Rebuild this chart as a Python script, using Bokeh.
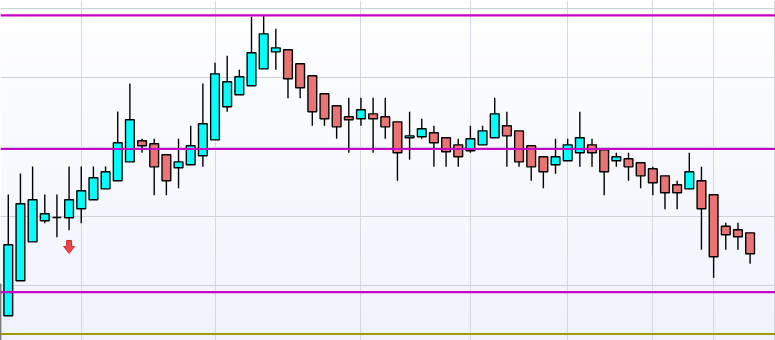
import numpy as np
from bokeh.plotting import figure
from bokeh.models import Range1d, FixedTicker, Grid, Span, ColumnDataSource
from bokeh.embed import file_html
from bokeh.resources import INLINE

opens = [100.15, 97.82, 100.35, 103.16, 104.68, 104.92, 104.90, 105.55, 106.20, 106.99,
         107.57, 108.94, 110.46, 110.25, 109.45, 108.51, 108.73, 109.38, 110.53, 112.92,
         113.79, 114.44, 115.66, 116.89, 117.04, 116.03, 115.16, 113.86, 112.99, 112.20,
         112.05, 112.41, 112.20, 111.83, 110.68, 110.75, 111.04, 110.68, 110.17, 109.74,
         110.17, 110.68, 111.55, 111.18, 110.10, 109.31, 108.73, 109.02, 109.60, 110.17,
         109.81, 109.02, 109.16, 108.87, 108.44, 107.93, 107.28, 106.99, 107.57, 106.56,
         104.29, 104.03, 103.81]
closes = [95.17, 102.95, 105.91, 106.20, 105.19, 104.92, 106.20, 106.85, 107.79, 108.22,
          110.32, 111.98, 110.10, 108.58, 107.57, 108.94, 110.10, 111.69, 115.30, 114.73,
          115.09, 116.82, 118.19, 117.18, 114.94, 114.29, 112.56, 112.05, 111.47, 111.98,
          112.70, 112.05, 111.47, 109.60, 110.82, 111.33, 110.32, 109.67, 109.31, 110.61,
          111.18, 112.41, 110.82, 108.94, 108.58, 108.22, 109.31, 110.17, 110.68, 109.60,
          108.22, 109.31, 108.58, 107.93, 107.43, 106.71, 106.71, 108.22, 105.55, 102.08,
          103.67, 103.53, 102.30]
highs = [100.37, 106.58, 108.10, 108.61, 106.58, 106.58, 108.61, 108.61, 108.61, 108.61,
         112.58, 114.60, 110.61, 110.61, 109.45, 110.61, 111.55, 114.60, 116.10, 116.60,
         115.59, 119.42, 119.52, 118.55, 117.04, 116.03, 115.16, 113.86, 112.99, 113.57,
         113.57, 113.57, 113.57, 111.83, 112.56, 112.05, 111.55, 110.68, 110.61, 111.55,
         111.55, 113.57, 112.56, 111.18, 110.10, 109.31, 110.61, 110.61, 112.56, 110.61,
         109.81, 109.60, 109.60, 108.87, 108.58, 107.93, 107.57, 109.60, 108.58, 106.56,
         104.54, 104.54, 103.81]
lows = [94.59, 97.80, 100.33, 103.16, 104.51, 103.50, 104.00, 104.51, 106.20, 106.99,
        107.57, 108.94, 109.60, 106.53, 106.53, 107.04, 108.73, 108.58, 110.53, 112.56,
        113.79, 114.44, 115.66, 115.59, 113.54, 113.54, 111.55, 111.55, 110.61, 109.60,
        111.55, 109.60, 110.61, 107.57, 109.09, 110.61, 108.58, 108.58, 108.58, 109.60,
        110.17, 110.68, 108.58, 108.58, 107.57, 107.04, 108.08, 109.02, 108.58, 108.58,
        106.53, 108.58, 107.57, 107.04, 106.53, 105.52, 105.52, 106.99, 102.59, 100.56,
        102.59, 102.59, 101.57]

resistance_support_levels = [119.52, 109.87, 99.52]
baseline_levels = [96.50]
signal_index = [6]
signal_price = [102.32]
x_grid_ticks = [7, 18, 30, 39, 47, 54, 59, 64]
y_grid_ticks = [100, 105, 110, 115, 120]

W, H = 775, 340
X0, X1 = 0.36, 0.36 + W / 12.161
Y0, Y1 = 96.03, 120.60

idx = list(range(len(opens)))
up_color = "#00ffff"
down_color = "#ea7474"
src = ColumnDataSource(dict(
    x=idx, o=opens, c=closes, h=highs, l=lows,
    top=[max(a, b) for a, b in zip(opens, closes)],
    bottom=[min(a, b) for a, b in zip(opens, closes)],
    color=[up_color if c >= o else down_color for o, c in zip(opens, closes)],
))

p = figure(width=W, height=H, output_backend="svg", toolbar_location=None,
           x_range=Range1d(X0, X1), y_range=Range1d(Y0, Y1),
           x_axis_location=None, y_axis_location=None, min_border=0)
p.outline_line_color = None
p.background_fill_color = "#ffffff"
p.border_fill_color = "#ffffff"

p.center = [r for r in p.center if not isinstance(r, Grid)]
p.add_layout(Grid(dimension=0, ticker=FixedTicker(ticks=x_grid_ticks),
                  grid_line_color="#d3d8e3", grid_line_width=1))
p.add_layout(Grid(dimension=1, ticker=FixedTicker(ticks=y_grid_ticks),
                  grid_line_color="#cdd3de", grid_line_width=1))

# vertical gradient background
n = 200
img = np.empty((n, 2), dtype=np.uint32)
view = img.view(dtype=np.uint8).reshape((n, 2, 4))
top_c = np.array([255, 255, 255])
bot_c = np.array([239, 243, 252])
for i in range(n):
    t = i / (n - 1)
    col = bot_c + (top_c - bot_c) * t
    view[i, :, 0] = int(col[0]); view[i, :, 1] = int(col[1]); view[i, :, 2] = int(col[2]); view[i, :, 3] = 255
p.image_rgba(image=[img], x=X0, y=Y0, dw=X1 - X0, dh=Y1 - Y0, level="image")

p.segment(x0="x", y0="h", x1="x", y1="l", source=src, line_color="black", line_width=1.4)
p.vbar(x="x", top="top", bottom="bottom", width=0.72, source=src,
       fill_color="color", line_color="black", line_width=1.4)

for lv in resistance_support_levels:
    p.add_layout(Span(location=lv, dimension="width", line_color="#c800c8", line_width=2.2))
for lv in baseline_levels:
    p.add_layout(Span(location=lv, dimension="width", line_color="#9c9c00", line_width=2.2))

# down-arrow signal marker (shape in pixels, anchored at the data tip)
dyp = (Y1 - Y0) / H
dxp = (X1 - X0) / W
shape = [(-2.5, 13), (2.5, 13), (2.5, 7), (5.5, 7), (0, 0), (-5.5, 7), (-2.5, 7)]
xs = [[sx + px * dxp for px, py in shape] for sx in signal_index]
ys = [[sy + py * dyp for px, py in shape] for sy in signal_price]
p.patches(xs=xs, ys=ys, fill_color="#ec4646", line_color="#c83232", line_width=1)

open("out.html", "w").write(file_html(p, INLINE))
